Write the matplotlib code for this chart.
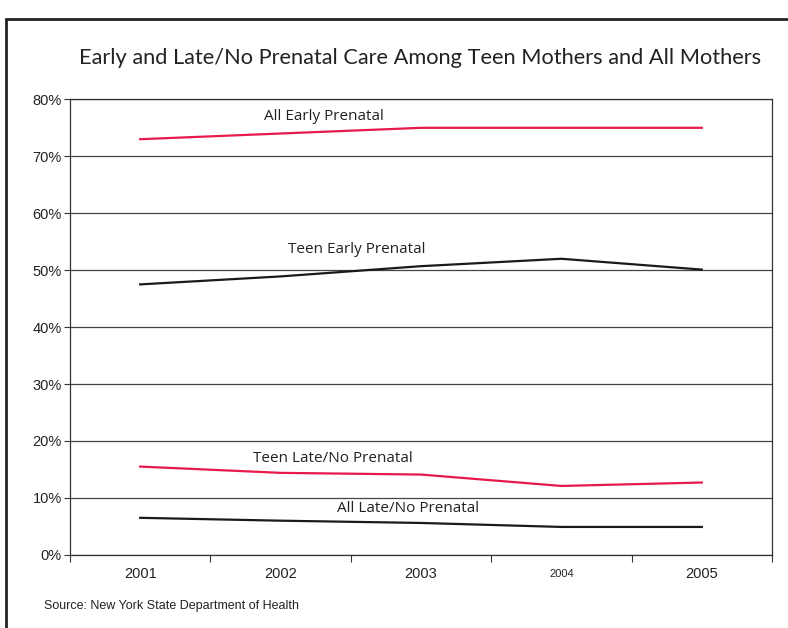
import matplotlib

matplotlib.use("Agg")
import matplotlib.pyplot as plt
from matplotlib.patches import Rectangle

years = ["2001", "2002", "2003", "2004", "2005"]
all_early = [73.0, 74.0, 75.0, 75.0, 75.0]
teen_early = [47.5, 48.9, 50.7, 52.0, 50.1]
teen_late = [15.5, 14.4, 14.1, 12.1, 12.7]
all_late = [6.5, 6.0, 5.6, 4.9, 4.9]

RED = "#e8194c"
BLACK = "#1a1a1a"

fig = plt.figure(figsize=(7.88, 6.28), dpi=100)
ax = fig.add_axes([0.0888, 0.1165, 0.8909, 0.7253])

x = list(range(len(years)))
ax.plot(x, all_early, color=RED, lw=1.6)
ax.plot(x, teen_early, color=BLACK, lw=1.6)
ax.plot(x, teen_late, color=RED, lw=1.6)
ax.plot(x, all_late, color=BLACK, lw=1.6)

label_font = dict(family="Open Sans", fontsize=11, color="#222222", ha="center", va="center")
ax.text(1.31, 77.0, "All Early Prenatal", **label_font)
ax.text(1.54, 53.6, "Teen Early Prenatal", **label_font)
ax.text(1.37, 17.0, "Teen Late/No Prenatal", **label_font)
ax.text(1.91, 8.1, "All Late/No Prenatal", **label_font)

ax.set_xlim(-0.5, len(years) - 0.5)
ax.set_ylim(0, 80)
ax.set_yticks(range(0, 81, 10))
ax.set_yticklabels([f"{v}%" for v in range(0, 81, 10)],
                   family="Liberation Sans", fontsize=10.5, color="#222222")
ax.set_xticks(x)
ax.set_xticklabels(years, family="Liberation Sans", fontsize=10.5, color="#222222",
                   va="center")
ax.get_xticklabels()[3].set_fontsize(8)
ax.set_xticks([i - 0.5 for i in range(len(years) + 1)], minor=True)
ax.tick_params(axis="x", which="major", length=0, pad=13.5)
ax.tick_params(axis="x", which="minor", length=5, width=0.8, color="#333333")
ax.tick_params(axis="y", length=4, width=0.8, color="#333333", pad=2)
ax.grid(axis="y", color="#444444", lw=0.9)
ax.set_axisbelow(True)
for side in ["left", "bottom", "top", "right"]:
    ax.spines[side].set_color("#333333")
    ax.spines[side].set_linewidth(0.9)

fig.text(0.533, 0.907, "Early and Late/No Prenatal Care Among Teen Mothers and All Mothers",
         family="Lato", fontsize=15.7, color="#222222",
         ha="center", va="center")
fig.text(0.056, 0.035, "Source: New York State Department of Health",
         family="Liberation Sans", fontsize=9, color="#222222", va="center")

# outer frame, open at the bottom edge of the picture
fig.add_artist(Rectangle((0.0075, -0.02), 1.2, 0.99, transform=fig.transFigure,
                         fill=False, edgecolor="#222222", lw=2))

fig.savefig("out.png", dpi=100)
